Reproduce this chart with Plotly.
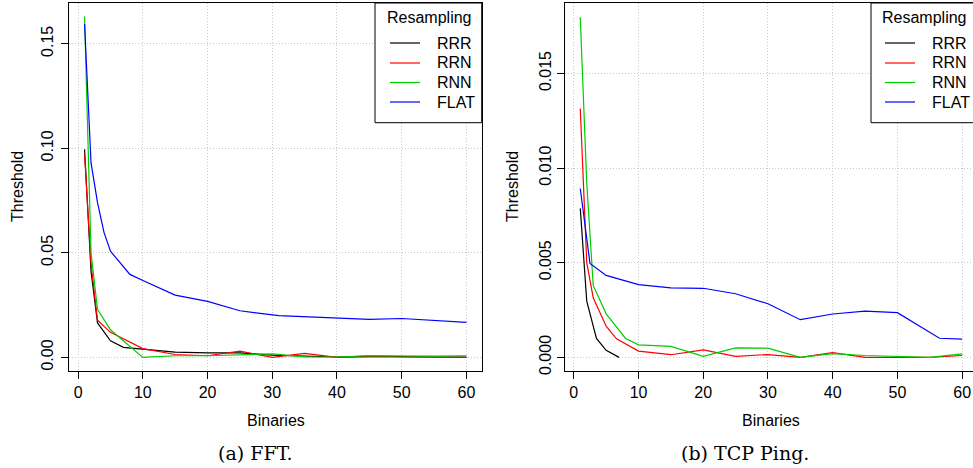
import plotly.graph_objects as go

# ---------------- data ----------------
series_names = ["RRR", "RRN", "RNN", "FLAT"]
series_colors = ["#000000", "#FF0000", "#00CD00", "#0000FF"]

# (a) FFT
fft_x_rrr = [1, 2, 3, 5, 7, 10, 15, 20, 25, 30, 35, 40, 45, 50, 55, 60]
fft_rrr = [0.0995, 0.041, 0.0165, 0.0079, 0.0048, 0.0040, 0.0025, 0.0022, 0.0022, 0.0011, 0.0008, 0.0002, 0.0006, 0.0003, 0.0002, 0.0001]
fft_x_rrn = [1, 2, 3, 5, 10, 15, 20, 25, 30, 35, 40, 45, 50, 55, 60]
fft_rrn = [0.097, 0.045, 0.0178, 0.0120, 0.0042, 0.0014, 0.0008, 0.0030, 0.0, 0.0019, 0.0, 0.0003, 0.0002, 0.0001, 0.0]
fft_x_rnn = [1, 2, 3, 5, 10, 15, 20, 25, 30, 35, 40, 45, 50, 55, 60]
fft_rnn = [0.163, 0.050, 0.023, 0.0132, 0.0, 0.0008, 0.0008, 0.0012, 0.0017, 0.0003, 0.0002, 0.0008, 0.0006, 0.0006, 0.0008]
fft_x_flat = [1, 2, 3, 4, 5, 8, 10, 15, 20, 25, 31, 40, 45, 50, 60]
fft_flat = [0.1595, 0.093, 0.074, 0.0598, 0.0508, 0.0397, 0.0368, 0.0298, 0.0268, 0.0223, 0.0200, 0.0190, 0.0182, 0.0186, 0.0168]

# (b) TCP Ping
tcp_x_rrr = [1, 2, 3.5, 5, 7]
tcp_rrr = [0.00787, 0.00297, 0.0010, 0.00037, 0.0]
tcp_x_rrn = [1, 2, 3, 5, 6.6, 10, 15, 20, 25, 30, 35, 40, 45, 50, 55, 60]
tcp_rrn = [0.01315, 0.0050, 0.00315, 0.00165, 0.00098, 0.00033, 0.00014, 0.0004, 0.00005, 0.00015, 0.0, 0.00025, 0.0, 0.0, 0.0, 0.0001]
tcp_x_rnn = [1, 2, 3, 5, 8, 10, 15, 20, 25, 30, 35, 40, 45, 50, 55, 60]
tcp_rnn = [0.01797, 0.0092, 0.0038, 0.0023, 0.0010, 0.00066, 0.00058, 0.00005, 0.0005, 0.00049, 0.0, 0.0002, 0.0001, 0.00005, 0.0, 0.00018]
tcp_x_flat = [1, 2.5, 5, 10, 15, 20, 25, 30, 35, 40, 45, 50, 56.5, 60]
tcp_flat = [0.00892, 0.00496, 0.00433, 0.00384, 0.00367, 0.00365, 0.00336, 0.00283, 0.00199, 0.00229, 0.00244, 0.00236, 0.00101, 0.00096]

x_ticks = [0, 10, 20, 30, 40, 50, 60]
fft_y_ticks = [0.00, 0.05, 0.10, 0.15]
tcp_y_ticks = [0.000, 0.005, 0.010, 0.015]

x_label = "Binaries"
y_label = "Threshold"
legend_title = "Resampling"
captions = ["(a) FFT.", "(b) TCP Ping."]

# ---------------- figure ----------------
W, H = 973, 468
FONT = "Liberation Sans, Arial, sans-serif"
SERIF = "DejaVu Serif, serif"

def px_x(p):
    return p / W

def px_y(p):
    return 1 - p / H

fig = go.Figure()

fft_sets = [(fft_x_rrr, fft_rrr), (fft_x_rrn, fft_rrn), (fft_x_rnn, fft_rnn), (fft_x_flat, fft_flat)]
tcp_sets = [(tcp_x_rrr, tcp_rrr), (tcp_x_rrn, tcp_rrn), (tcp_x_rnn, tcp_rnn), (tcp_x_flat, tcp_flat)]

for name, col, (xs, ys) in zip(series_names, series_colors, fft_sets):
    fig.add_trace(go.Scatter(x=xs, y=ys, mode="lines", name=name,
                             line=dict(color=col, width=1.2),
                             xaxis="x", yaxis="y", showlegend=False))
for name, col, (xs, ys) in zip(series_names, series_colors, tcp_sets):
    fig.add_trace(go.Scatter(x=xs, y=ys, mode="lines", name=name,
                             line=dict(color=col, width=1.2),
                             xaxis="x2", yaxis="y2", showlegend=False))

PLOT_TOP, PLOT_BOT = 3, 371
L_LEFT, L_RIGHT = 69.3, 481.7
R_LEFT = 565.0
ydom = [px_y(PLOT_BOT), px_y(PLOT_TOP)]

axis_common = dict(
    showline=True, linecolor="black", linewidth=1,
    ticks="outside", ticklen=7, tickcolor="black", tickwidth=1,
    showgrid=True, gridcolor="#c8c8c8", griddash="1px,2px", gridwidth=1,
    zeroline=False, tickfont=dict(family=FONT, size=16, color="black"),
    automargin=False,
)

xr_left = [-1.36, 62.36]
# right panel uses the same x scale; the page cuts it at the window edge
scale = (L_RIGHT - L_LEFT) / (xr_left[1] - xr_left[0])
xr_right = [-1.36, -1.36 + (W - R_LEFT) / scale]

fig.update_layout(
    width=W, height=H,
    margin=dict(l=0, r=0, t=0, b=0),
    paper_bgcolor="white", plot_bgcolor="white",
    font=dict(family=FONT, size=16, color="black"),
    showlegend=False,
    hovermode=False,
    xaxis=dict(domain=[px_x(L_LEFT), px_x(L_RIGHT)], range=xr_left, tickvals=x_ticks,
               mirror=True, anchor="y", **axis_common),
    yaxis=dict(domain=ydom, range=[-0.0065, 0.1695], tickvals=fft_y_ticks,
               tickformat=".2f", tickangle=-90, mirror=True, anchor="x",
               ticklabelstandoff=2, **axis_common),
    xaxis2=dict(domain=[px_x(R_LEFT), 1.0], range=xr_right, tickvals=x_ticks,
                mirror=True, anchor="y2", **axis_common),
    yaxis2=dict(domain=ydom, range=[-0.00072, 0.01872], tickvals=tcp_y_ticks,
                tickformat=".3f", tickangle=-90, mirror=False, anchor="x2",
                ticklabelstandoff=0, **axis_common),
)

# legends (box, title, line keys, labels)
legend_specs = [
    dict(box=(375, L_RIGHT), title_cx=429, key=(390, 420), text_x=435),
    dict(box=(871, 990), title_cx=924, key=(885, 915), text_x=930),
]
entry_y = [43, 63, 82.5, 102]
for spec in legend_specs:
    bx0, bx1 = spec["box"]
    fig.add_shape(type="rect", xref="paper", yref="paper",
                  x0=px_x(bx0), x1=px_x(bx1), y0=px_y(122.7), y1=px_y(PLOT_TOP),
                  line=dict(color="black", width=1), fillcolor="white", layer="above")
    fig.add_annotation(text=legend_title, x=px_x(spec["title_cx"]), y=px_y(18),
                       xref="paper", yref="paper", showarrow=False,
                       font=dict(family=FONT, size=16), xanchor="center", yanchor="middle")
    k0, k1 = spec["key"]
    for name, col, ey in zip(series_names, series_colors, entry_y):
        fig.add_shape(type="line", xref="paper", yref="paper",
                      x0=px_x(k0), x1=px_x(k1), y0=px_y(ey), y1=px_y(ey),
                      line=dict(color=col, width=1.2), layer="above")
        fig.add_annotation(text=name, x=px_x(spec["text_x"]), y=px_y(ey),
                           xref="paper", yref="paper", showarrow=False,
                           font=dict(family=FONT, size=16), xanchor="left", yanchor="middle")

# axis titles and captions
for cx in [(L_LEFT + L_RIGHT) / 2, R_LEFT + (L_RIGHT - L_LEFT) / 2]:
    fig.add_annotation(text=x_label, x=px_x(cx), y=px_y(420), xref="paper", yref="paper",
                       showarrow=False, font=dict(family=FONT, size=16),
                       xanchor="center", yanchor="middle")
for cx in [17, 512]:
    fig.add_annotation(text=y_label, x=px_x(cx), y=px_y(187), xref="paper", yref="paper",
                       showarrow=False, textangle=-90, font=dict(family=FONT, size=16),
                       xanchor="center", yanchor="middle")
for cx, cap in zip([255, 745], captions):
    fig.add_annotation(text=cap, x=px_x(cx), y=px_y(453), xref="paper", yref="paper",
                       showarrow=False, font=dict(family=SERIF, size=19),
                       xanchor="center", yanchor="middle")

fig.write_html("out.html",
               config={"displayModeBar": False, "staticPlot": True},
               post_script="document.body.style.margin='0';document.body.style.overflow='hidden';")
